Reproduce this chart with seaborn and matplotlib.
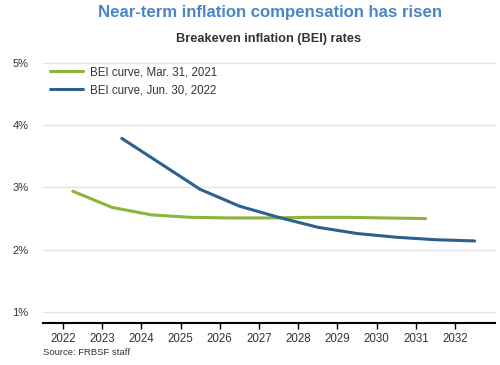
import pandas as pd
import numpy as np
import matplotlib.pyplot as plt
import seaborn as sns

sns.set_theme(style="white")
plt.rcParams['font.family'] = ['Liberation Sans', 'DejaVu Sans']

# BEI curve as of Mar. 31, 2021
years_2021 = [2022.25, 2023.25, 2024.25, 2025.25, 2026.25, 2027.25, 2028.25, 2029.25, 2030.25, 2031.25]
bei_2021 = [2.94, 2.68, 2.56, 2.52, 2.51, 2.51, 2.52, 2.52, 2.51, 2.50]

# BEI curve as of Jun. 30, 2022
years_2022 = [2023.5, 2024.5, 2025.5, 2026.5, 2027.5, 2028.5, 2029.5, 2030.5, 2031.5, 2032.5]
bei_2022 = [3.79, 3.38, 2.97, 2.70, 2.52, 2.36, 2.26, 2.20, 2.16, 2.14]

labels = ["BEI curve, Mar. 31, 2021", "BEI curve, Jun. 30, 2022"]
colors = ["#8cb33b", "#2d5f8f"]
xticks = list(range(2022, 2033))
yticks = [1, 2, 3, 4, 5]

df = pd.concat([
    pd.DataFrame({"year": years_2021, "bei": bei_2021, "curve": labels[0]}),
    pd.DataFrame({"year": years_2022, "bei": bei_2022, "curve": labels[1]}),
])

fig = plt.figure(figsize=(5, 3.65), dpi=100)
ax = fig.add_axes([0.086, 0.115, 0.904, 0.712])

sns.lineplot(data=df, x="year", y="bei", hue="curve", palette=dict(zip(labels, colors)),
             linewidth=2.2, ax=ax)

ax.set_xlim(2021.49, 2033.02)
ax.set_ylim(0.82, 5.0)
ax.set_xticks(xticks)
ax.set_yticks(yticks)
ax.set_yticklabels([f"{v}%" for v in yticks])
ax.set_xlabel("")
ax.set_ylabel("")

ax.grid(axis="y", color="#e3e3e3", linewidth=1, clip_on=False)
ax.set_axisbelow(True)
for s in ["top", "right", "left"]:
    ax.spines[s].set_visible(False)
ax.spines["bottom"].set_color("black")
ax.spines["bottom"].set_linewidth(1.5)
ax.tick_params(axis="x", bottom=True, length=4, width=1, color="black",
               labelsize=8.3, labelcolor="#333333", pad=3)
ax.tick_params(axis="y", left=False, labelsize=8, labelcolor="#333333", pad=4.5)

leg = ax.legend(loc="upper left", bbox_to_anchor=(0.0, 1.015), frameon=False, fontsize=8.3,
                handlelength=2.9, handletextpad=0.6, labelspacing=0.55, borderaxespad=0.2)
for t in leg.get_texts():
    t.set_color("#333333")
for h in leg.get_lines():
    h.set_linewidth(2.2)

fig.text(0.539, 0.967, "Near-term inflation compensation has risen", ha="center", va="center",
         fontsize=12.1, fontweight="bold", color="#4a86c6")
fig.text(0.537, 0.893, "Breakeven inflation (BEI) rates", ha="center", va="center",
         fontsize=9.15, fontweight="bold", color="#333333")
fig.text(0.086, 0.033, "Source: FRBSF staff", ha="left", va="center", fontsize=6.8, color="#333333")

fig.savefig("out.png", dpi=100)
